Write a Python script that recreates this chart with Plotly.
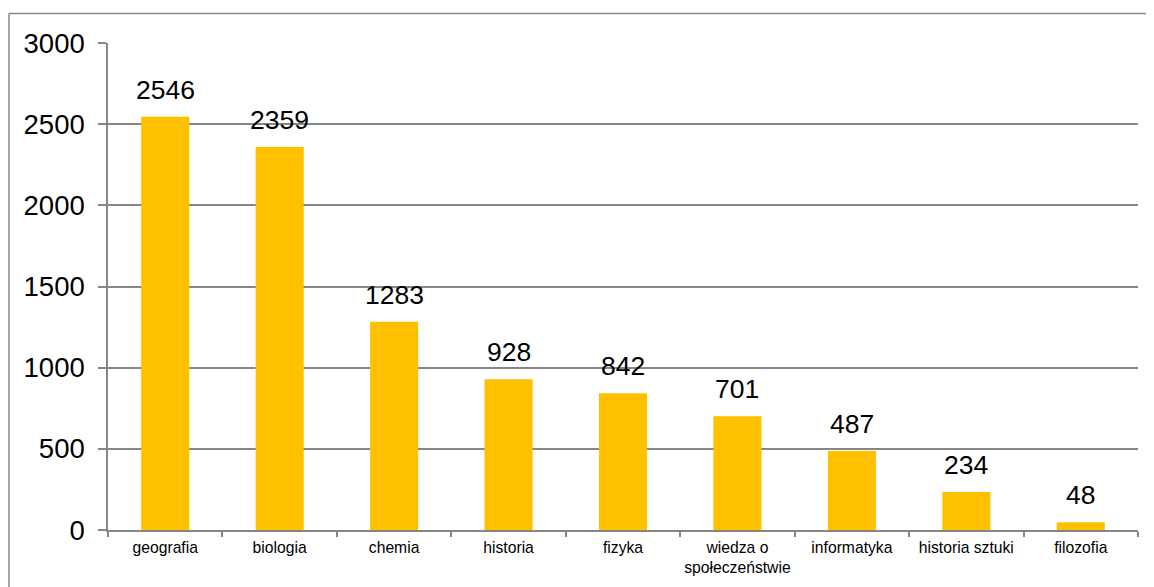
import plotly.graph_objects as go

categories = ["geografia", "biologia", "chemia", "historia", "fizyka",
              "wiedza o<br>społeczeństwie", "informatyka", "historia sztuki", "filozofia"]
values = [2546, 2359, 1283, 928, 842, 701, 487, 234, 48]
y_ticks = [0, 500, 1000, 1500, 2000, 2500, 3000]

# page body has an 8px margin, so the figure is drawn 8px in from the window edge
W, H = 1146, 579
L, R, T, B = 100, 16, 35, 57
pw, ph = W - L - R, H - T - B

FONT = "Liberation Sans, Arial"

fig = go.Figure()
fig.add_trace(go.Bar(x=categories, y=values, marker=dict(color="#FFC000", line=dict(width=0)),
                     hoverinfo="x+y"))

for c, v in zip(categories, values):
    fig.add_annotation(x=c, y=v, text=str(v), showarrow=False, yanchor="bottom",
                       yshift=10, font=dict(family=FONT, size=26.5, color="#000"))

# outer border (top and left)
bx0 = (1 - L) / pw
by1 = (H - B - 5.5) / ph
fig.add_shape(type="line", xref="paper", yref="paper", x0=bx0, x1=(W - L + 2) / pw, y0=by1, y1=by1,
              line=dict(color="#898989", width=1.5))
fig.add_shape(type="line", xref="paper", yref="paper", x0=bx0, x1=bx0, y0=by1, y1=-(B + 20) / ph,
              line=dict(color="#898989", width=1.5))

fig.update_layout(
    width=W, height=H,
    margin=dict(l=L, r=R, t=T, b=B, autoexpand=False),
    paper_bgcolor="white", plot_bgcolor="white",
    bargap=0.58,
    showlegend=False,
    font=dict(family=FONT, color="#000"),
    xaxis=dict(showline=True, linecolor="#868686", linewidth=1.5, ticks="outside",
               tickson="boundaries", ticklen=5, tickcolor="#868686", tickwidth=1.5,
               tickangle=0, automargin=False, ticklabelstandoff=2,
               tickfont=dict(size=15.7, color="#000"), showgrid=False),
    yaxis=dict(range=[0, 3000], tickvals=y_ticks, showline=True, linecolor="#868686", linewidth=1.5,
               ticks="outside", ticklen=8, tickcolor="#868686", tickwidth=1.5,
               showgrid=True, gridcolor="#868686", gridwidth=1.5, zeroline=False,
               ticklabelstandoff=8, automargin=False,
               tickfont=dict(size=27.5, color="#000")),
)

fig.write_html("out.html")
